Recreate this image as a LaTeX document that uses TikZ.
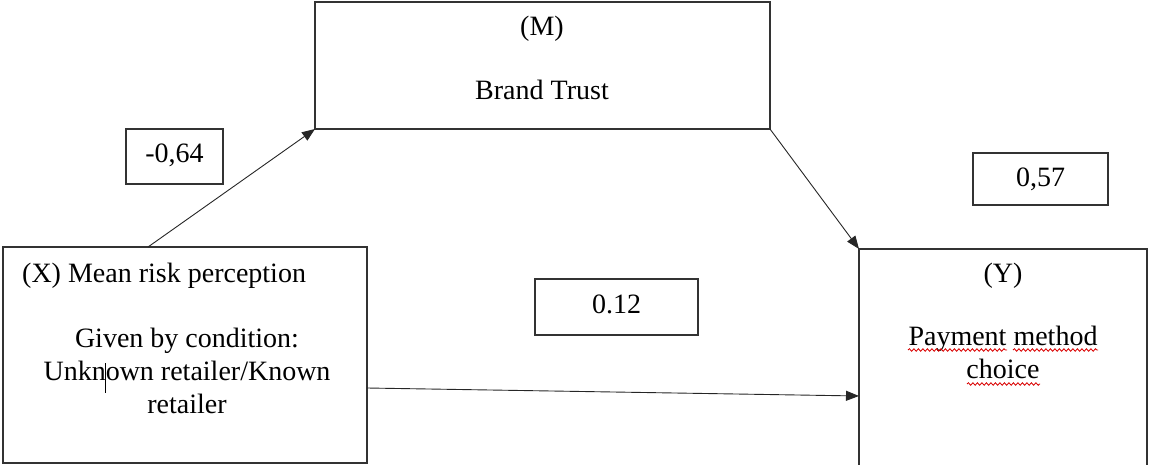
\documentclass[tikz,border=0pt]{standalone}
\usepackage{fontspec}
\setmainfont{Liberation Serif}
\usetikzlibrary{arrows.meta,decorations.pathmorphing}
\begin{document}
\begin{tikzpicture}[x=1pt,y=-1pt,
  box/.style={draw=black!80,line width=1.1pt,inner sep=0pt,outer sep=0pt},
  txt/.style={inner sep=0pt,anchor=base,font=\fontsize{28}{33}\selectfont},
  conn/.style={draw=black!85,line width=0.9pt,-{Triangle[length=13pt,width=10pt]}},
  spell/.style={draw=red!85!black,line width=0.8pt,decorate,decoration={snake,amplitude=1.3pt,segment length=4.5pt}}]
\useasboundingbox (0,0) rectangle (1149,465);
% boxes
\node[box,minimum width=364pt,minimum height=216pt] (X) at (185,355) {};
\node[box,minimum width=455pt,minimum height=127pt] (M) at (542.5,65.5) {};
\node[box,minimum width=288pt,minimum height=221pt] (Y) at (1003,359.5) {};
\node[box,minimum width=97pt,minimum height=55pt] (a) at (174.5,156.5) {};
\node[box,minimum width=135pt,minimum height=52pt] (b) at (1040.5,179) {};
\node[box,minimum width=163pt,minimum height=56pt] (c) at (616.5,307) {};
% texts
\node[txt,anchor=base west] (xt) at (22,283) {(X) Mean risk perception};
\node[txt] (x1) at (187,347) {Given by condition:};
\node[txt] (x2) at (187,380) {Unknown retailer/Known};
\node[txt] (x3) at (187,413) {retailer};
\node[txt] (mt) at (542,36) {(M)};
\node[txt] (m1) at (542,100) {Brand Trust};
\node[txt] (yt) at (1003,283) {(Y)};
\node[txt] (y1) at (1003,345) {Payment method};
\node[txt] (y2) at (1003,378) {choice};
\node[txt] (at) at (174.5,163) {-0,64};
\node[txt] (bt) at (1040.5,187) {0,57};
\node[txt] (ct) at (616.5,313) {0.12};
% text cursor
\draw[line width=0.9pt] (105,363) -- (105,393);
% spell-check underlines
\path[spell] (908,350) -- (1007,350);
\path[spell] (1013,350) -- (1098,350);
\path[spell] (967,384) -- (1040,384);
% connectors
\draw[conn] ([xshift=145pt]X.north west) -- (M.south west);
\draw[conn] (M.south east) -- (Y.north west);
\draw[conn] ([yshift=-33pt]X.east) -- ([yshift=-36.5pt]Y.west);
\end{tikzpicture}
\end{document}
